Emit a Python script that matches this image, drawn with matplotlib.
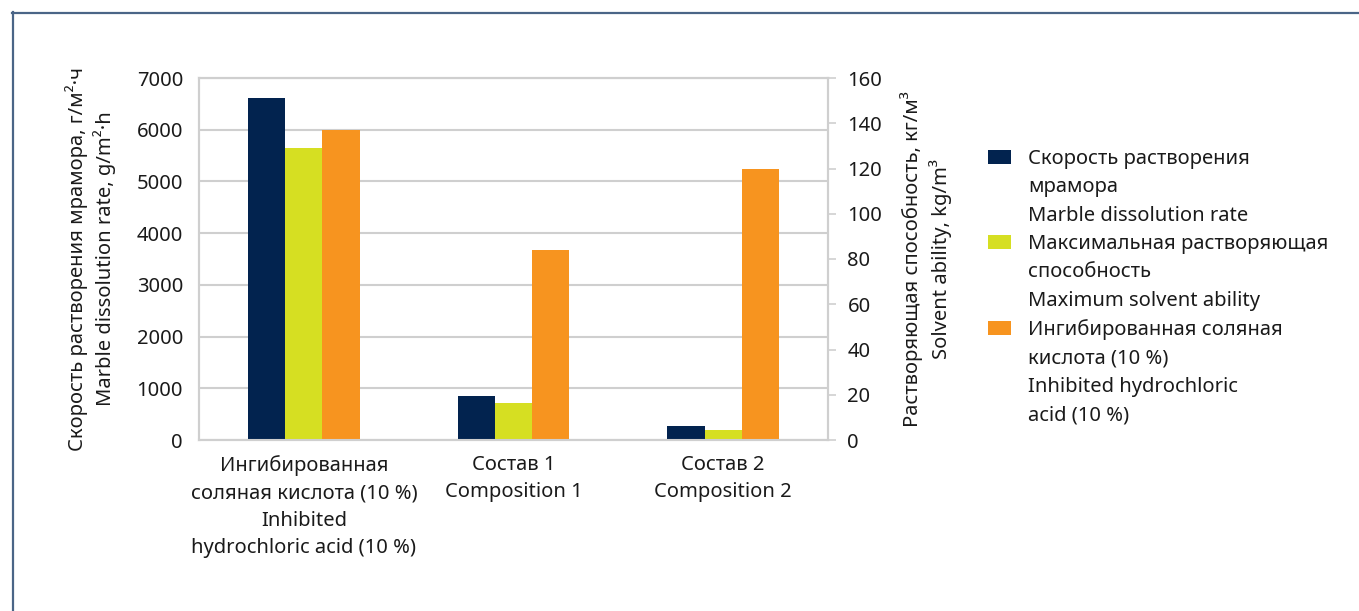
import numpy as np
import matplotlib
matplotlib.use("Agg")
import matplotlib.pyplot as plt
from matplotlib.patches import Patch
from matplotlib.lines import Line2D

# Data
categories = [
    "Ингибированная\nсоляная кислота (10 %)\nInhibited\nhydrochloric acid (10 %)",
    "Состав 1\nComposition 1",
    "Состав 2\nComposition 2",
]
marble_rate = [6610, 850, 270]          # g/m²·h
max_solvent = [5650, 715, 195]          # plotted on the left scale
inhibited_acid = [6000, 3675, 5240]     # plotted on the left scale

series_labels = [
    ["Скорость растворения", "мрамора", "Marble dissolution rate"],
    ["Максимальная растворяющая", "способность", "Maximum solvent ability"],
    ["Ингибированная соляная", "кислота (10 %)", "Inhibited hydrochloric", "acid (10 %)"],
]
colors = ["#02234f", "#d6df22", "#f7941f"]

left_ticks = [0, 1000, 2000, 3000, 4000, 5000, 6000, 7000]
right_ticks = [0, 20, 40, 60, 80, 100, 120, 140, 160]

plt.rcParams["font.family"] = ["Noto Sans", "DejaVu Sans"]
FS = 14.5

fig = plt.figure(figsize=(13.59, 6.11), dpi=100)
ax = fig.add_axes([199 / 1359, 1 - 440 / 611, (828 - 199) / 1359, (440 - 78) / 611])

x = np.arange(len(categories))
w = 0.178
for i, (vals, c) in enumerate(zip([marble_rate, max_solvent, inhibited_acid], colors)):
    ax.bar(x + (i - 1) * w, vals, width=w, color=c, zorder=3)

ax.set_xlim(-0.5, 2.5)
ax.set_ylim(0, 7000)
ax.set_yticks(left_ticks)
ax.set_yticklabels([str(t) for t in left_ticks], fontsize=FS, color="#1a1a1a")
ax.set_xticks(x)
ax.set_xticklabels(categories, fontsize=FS, color="#1a1a1a", linespacing=1.48)
ax.tick_params(axis="y", length=0, pad=11.5)
ax.tick_params(axis="x", length=0, pad=11)
ax.yaxis.grid(True, color="#cfcfcf", linewidth=1.5, zorder=0)
ax.set_axisbelow(True)
for s in ["left", "bottom", "top", "right"]:
    ax.spines[s].set_color("#cfcfcf")
    ax.spines[s].set_linewidth(1.5)

ax.set_ylabel("Скорость растворения мрамора, г/м²·ч\nMarble dissolution rate, g/m²·h",
              fontsize=FS, color="#1a1a1a", linespacing=1.3, labelpad=14.5)

ax2 = ax.twinx()
ax2.set_ylim(0, 160)
ax2.set_yticks(right_ticks)
ax2.set_yticklabels([str(t) for t in right_ticks], fontsize=FS, color="#1a1a1a")
ax2.tick_params(axis="y", length=6, width=1.2, color="#cfcfcf", pad=8)
for s in ["left", "bottom", "top", "right"]:
    ax2.spines[s].set_color("#cfcfcf")
    ax2.spines[s].set_linewidth(1.5)
ax2.set_ylabel("Растворяющая способность, кг/м³\nSolvent ability, kg/m³",
               fontsize=FS, color="#1a1a1a", linespacing=1.33, labelpad=13)

# Legend: colour swatch on the first line of each entry
handles, labels = [], []
for lines, c in zip(series_labels, colors):
    for j, line in enumerate(lines):
        if j == 0:
            handles.append(Patch(facecolor=c, edgecolor="none"))
        else:
            handles.append(Patch(facecolor="none", edgecolor="none"))
        labels.append(line)
leg = fig.legend(handles, labels, loc="upper left", bbox_to_anchor=(980 / 1359, 1 - 141 / 611),
                 frameon=False, fontsize=FS, handlelength=1.15, handleheight=0.63,
                 handletextpad=0.85, labelspacing=0.415, borderaxespad=0)
for t in leg.get_texts():
    t.set_color("#1a1a1a")

# Outer frame (left and top edges)
frame_color = "#4a6587"
fig.add_artist(Line2D([12.5 / 1359, 12.5 / 1359], [0, 1 - 12 / 611], color=frame_color, lw=1.6))
fig.add_artist(Line2D([12 / 1359, 1358 / 1359], [1 - 12.5 / 611, 1 - 12.5 / 611], color=frame_color, lw=1.6))

fig.savefig("out.png", dpi=100, facecolor="white")
